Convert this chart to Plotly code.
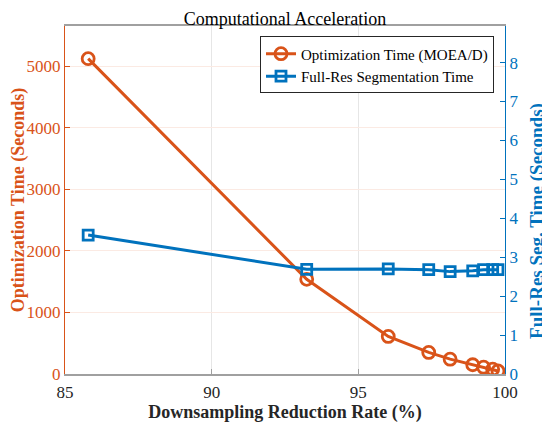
import plotly.graph_objects as go

reduction_rate = [85.79, 93.24, 96.02, 97.40, 98.13, 98.90, 99.27, 99.58, 99.76]
opt_time = [5120, 1537, 610, 350, 241, 150, 110, 78, 50]
seg_time = [3.57, 2.69, 2.70, 2.68, 2.63, 2.65, 2.68, 2.68, 2.68]

x_ticks = [85, 90, 95, 100]
left_ticks = [0, 1000, 2000, 3000, 4000, 5000]
right_ticks = [0, 1, 2, 3, 4, 5, 6, 7, 8]

ORANGE = "#D95319"
BLUE = "#0072BD"
FONT = "Liberation Serif"

fig = go.Figure()
fig.add_trace(go.Scatter(
    x=reduction_rate, y=opt_time, name="Optimization Time (MOEA/D)",
    mode="lines+markers",
    line=dict(color=ORANGE, width=3),
    marker=dict(symbol="circle-open", size=12, color=ORANGE, line=dict(width=2.8, color=ORANGE)),
    yaxis="y",
))
fig.add_trace(go.Scatter(
    x=reduction_rate, y=seg_time, name="Full-Res Segmentation Time",
    mode="lines+markers",
    line=dict(color=BLUE, width=3),
    marker=dict(symbol="square-open", size=10, color=BLUE, line=dict(width=2.8, color=BLUE)),
    yaxis="y2",
))

# page body has an 8px margin, so the figure is sized/offset to compensate
fig.update_layout(
    width=542, height=419,
    margin=dict(l=57, r=45, t=18, b=53),
    paper_bgcolor="white", plot_bgcolor="white",
    font=dict(family=FONT, size=17, color="#262626"),
    title=dict(text="Computational Acceleration", x=0.5, xref="paper", xanchor="center",
               y=1, yref="paper", yanchor="bottom", pad=dict(b=1),
               font=dict(family=FONT, size=18, color="black")),
    showlegend=True,
    legend=dict(x=0.975, y=0.97, xanchor="right", yanchor="top",
                bgcolor="white", bordercolor="#262626", borderwidth=1,
                font=dict(family=FONT, size=15, color="black"),
                tracegroupgap=0, itemwidth=30),
    xaxis=dict(
        range=[85, 100], tickvals=x_ticks, ticktext=[str(v) for v in x_ticks],
        showgrid=True, gridcolor="#E6E6E6", gridwidth=1,
        showline=True, linecolor="#A0A0A0", linewidth=1.5, mirror=True,
        ticks="inside", ticklen=5, tickcolor="#A0A0A0", ticklabelstandoff=2,
        tickfont=dict(family=FONT, size=17, color="#262626"),
        title=dict(text="<b>Downsampling Reduction Rate (%)</b>", standoff=4,
                   font=dict(family=FONT, size=18, color="#262626")),
        zeroline=False, automargin=False,
    ),
    yaxis=dict(
        range=[0, 5650], tickvals=left_ticks, ticktext=[str(v) for v in left_ticks],
        showgrid=True, gridcolor="#FBEAE3", gridwidth=1,
        showline=True, linecolor=ORANGE, linewidth=1,
        ticks="inside", ticklen=5, tickcolor=ORANGE,
        tickfont=dict(family=FONT, size=17, color=ORANGE),
        title=dict(text="<b>Optimization Time (Seconds)</b>", standoff=4,
                   font=dict(family=FONT, size=18, color=ORANGE)),
        zeroline=False, automargin=False,
    ),
    yaxis2=dict(
        range=[0, 8.94], tickvals=right_ticks, ticktext=[str(v) for v in right_ticks],
        overlaying="y", side="right", showgrid=False,
        showline=True, linecolor=BLUE, linewidth=1,
        ticks="inside", ticklen=5, tickcolor=BLUE,
        tickfont=dict(family=FONT, size=17, color=BLUE),
        zeroline=False, automargin=False,
    ),
    annotations=[dict(
        text="<b>Full-Res Seg. Time (Seconds)</b>", textangle=-90,
        xref="paper", yref="paper", x=1, y=0.44, xanchor="center", yanchor="middle",
        xshift=32, showarrow=False, borderpad=0,
        font=dict(family=FONT, size=19, color=BLUE),
    )],
)

fig.write_html("out.html")
